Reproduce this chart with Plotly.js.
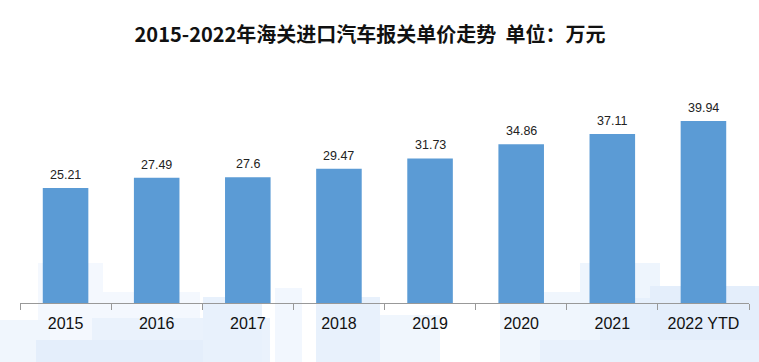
<!DOCTYPE html>
<html>
<head>
<meta charset="utf-8">
<script src="https://cdn.plot.ly/plotly-3.0.1.min.js"></script>
<style>html,body{margin:0;padding:0;background:#fff;}#chart{width:759px;height:362px;}</style>
</head>
<body>
<div id="chart"></div>
<script>
const categories = ["2015", "2016", "2017", "2018", "2019", "2020", "2021", "2022 YTD"];
const unitPrice = [25.21, 27.49, 27.6, 29.47, 31.73, 34.86, 37.11, 39.94];
const priceLabels = ["25.21", "27.49", "27.6", "29.47", "31.73", "34.86", "37.11", "39.94"];

const W = 759, H = 362, ML = 20, MR = 10, MT = 80, MB = 59;
const pw = W - ML - MR, ph = H - MT - MB;
function px(x){ return (x - ML) / pw; }
function py(y){ return (H - MB - y) / ph; }
const blocks = [
  [38,263,103,362,'#f4f8fe'],
  [103,292,200,362,'#f4f8fe'],
  [0,320,50,362,'#f0f6fd'],
  [92,318,270,362,'#eaf2fc'],
  [36,340,260,362,'#e4eefb'],
  [203,297,262,362,'#e8f1fc'],
  [275,288,302,362,'#f2f7fe'],
  [316,297,380,362,'#e8f1fc'],
  [380,315,440,362,'#f0f6fd'],
  [500,292,600,362,'#f0f6fd'],
  [580,263,660,362,'#eef5fd'],
  [600,298,650,362,'#e6f0fc'],
  [650,286,759,362,'#e4eefb'],
  [540,340,759,362,'#e8f1fc']
];
const shapes = blocks.map(b => ({
  type:'rect', xref:'paper', yref:'paper', layer:'below',
  x0:px(b[0]), x1:px(b[2]), y0:py(b[3]), y1:py(b[1]),
  fillcolor:b[4], line:{width:0}
}));

const annotations = categories.map((c, i) => ({
  x:i, y:unitPrice[i], xref:'x', yref:'y', text:priceLabels[i],
  showarrow:false, yanchor:'bottom', yshift:4,
  font:{family:'Liberation Sans, Arial, sans-serif', size:12.5, color:'#222'}
}));

const trace = {
  type:'bar', x:categories, y:unitPrice,
  marker:{color:'#5b9bd5'}, hoverinfo:'x+y'
};
const layout = {
  width:W, height:H,
  margin:{l:ML, r:MR, t:MT, b:MB},
  paper_bgcolor:'#ffffff', plot_bgcolor:'rgba(0,0,0,0)',
  bargap:0.5, showlegend:false,
  title:{text:'2015-2022年海关进口汽车报关单价走势\u00a0\u00a0单位：万元',
    font:{family:'Noto Sans CJK SC, sans-serif', size:20, color:'#111', weight:'bold'},
    x:0.4875, xanchor:'center', y:1-35/362, yanchor:'middle', yref:'container'},
  xaxis:{type:'category', categoryarray:categories, categoryorder:'array',
    range:[-0.5, categories.length - 0.5],
    showline:true, linecolor:'#999', linewidth:1,
    ticks:'outside', tickson:'boundaries', ticklen:6, tickcolor:'#999',
    ticklabelstandoff:6,
    tickfont:{family:'Liberation Sans, Arial, sans-serif', size:16, color:'#111'},
    showgrid:false, zeroline:false, fixedrange:true},
  yaxis:{range:[0, ph/4.557], visible:false, showgrid:false, zeroline:false, fixedrange:true},
  shapes:shapes, annotations:annotations
};
Plotly.newPlot('chart', [trace], layout, {displayModeBar:false, staticPlot:true});
</script>
</body>
</html>
